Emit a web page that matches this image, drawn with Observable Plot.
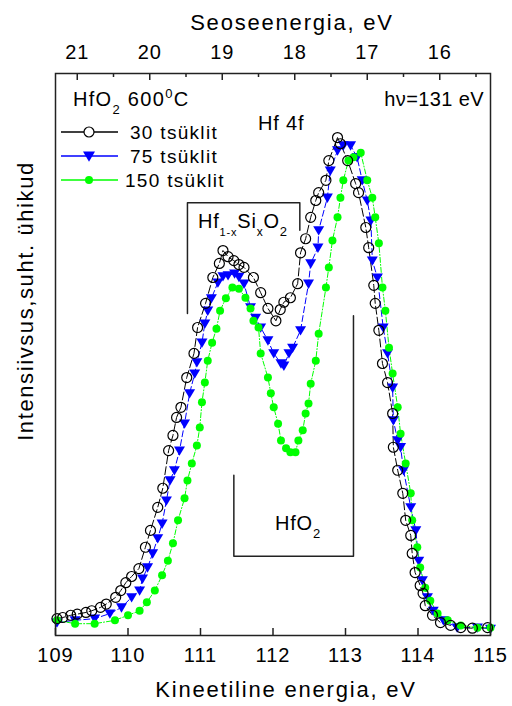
<!DOCTYPE html>
<html><head><meta charset="utf-8">
<script src="https://cdn.jsdelivr.net/npm/d3@7"></script>
<script src="https://cdn.jsdelivr.net/npm/@observablehq/plot@0.6"></script>
<style>body{margin:0;background:#fff} svg{display:block}
g[aria-label="x-axis tick label"] text{letter-spacing:1px}</style>
</head><body><div id="chart"></div>
<script>
// ---------- data (kinetic energy, eV ; intensity, arb. units) ----------
const seriesNames = ["30 tsüklit", "75 tsüklit", "150 tsüklit"];
const bottomTicks = [109, 110, 111, 112, 113, 114, 115];
const topTickBE = [21, 20, 19, 18, 17, 16];
const topMinorBE = [20.5, 19.5, 18.5, 17.5, 16.5, 15.5];
const beOffset = 130.3; // binding energy = beOffset - kinetic energy

const ke30 = [109.02,109.1,109.21,109.3,109.42,109.5,109.62,109.7,109.83,109.9,109.97,110.05,110.15,110.24,110.31,110.41,110.48,110.56,110.62,110.67,110.73,110.81,110.91,110.96,111.07,111.17,111.26,111.31,111.38,111.46,111.53,111.60,111.73,111.83,111.93,112.04,112.10,112.15,112.24,112.34,112.38,112.45,112.52,112.59,112.63,112.73,112.77,112.89,112.93,113.03,113.14,113.18,113.28,113.32,113.39,113.41,113.46,113.51,113.58,113.65,113.66,113.72,113.79,113.83,113.90,113.92,113.96,114.03,114.07,114.10,114.20,114.31,114.45,114.59,114.75,114.96];
const int30 = [3.0,3.2,3.6,3.8,4.1,4.4,5.0,5.6,6.8,8.0,9.4,10.5,11.9,15.7,18.7,22.8,26.2,32.9,35.6,38.8,40.6,45.9,50.2,54.8,59.1,63.7,66.2,68.5,67.4,66.7,66.0,65.5,63.7,61.0,58.2,56.0,58.0,59.3,60.1,62.6,68.1,70.6,74.4,77.4,78.8,81.0,84.5,88.6,87.5,84.5,80.4,78.8,72.6,69.0,62.3,59.1,54.3,48.4,45.0,39.5,33.5,29.4,25.3,20.5,17.8,14.6,11.2,8.9,7.5,5.3,3.6,2.3,1.8,1.4,1.3,1.4];

const ke75 = [109.02,109.27,109.54,109.75,109.91,110.05,110.16,110.20,110.27,110.34,110.41,110.47,110.53,110.58,110.64,110.71,110.78,110.85,110.92,110.95,111.02,111.06,111.10,111.15,111.24,111.31,111.38,111.47,111.53,111.60,111.69,111.76,111.83,111.93,112.01,112.11,112.15,112.22,112.27,112.38,112.49,112.52,112.62,112.63,112.75,112.79,112.89,112.97,113.07,113.16,113.23,113.30,113.35,113.37,113.44,113.52,113.58,113.65,113.66,113.72,113.76,113.80,113.90,113.97,114.01,114.06,114.13,114.21,114.35,114.54,114.82,115.00];
const int75 = [2.3,2.7,3.0,3.9,5.0,6.8,8.0,10.1,12.1,14.6,17.3,19.9,24.0,27.6,29.4,32.9,37.7,43.1,46.6,48.6,52.1,55.5,57.8,60.0,62.8,63.9,64.1,64.4,63.8,62.6,58.4,56.5,54.8,52.5,50.2,48.4,48.0,50.2,51.2,54.3,62.6,66.2,69.0,72.1,77.9,82.7,86.3,87.2,87.2,85.1,81.0,77.4,73.8,66.7,63.7,54.8,50.2,44.1,38.3,34.7,33.5,29.4,22.8,18.7,13.3,9.8,6.8,4.4,2.7,1.4,1.4,1.2];

const ke150 = [109.02,109.27,109.54,109.82,110.00,110.16,110.26,110.37,110.47,110.55,110.62,110.69,110.78,110.82,110.88,110.95,110.99,111.02,111.06,111.10,111.16,111.22,111.27,111.35,111.44,111.53,111.62,111.69,111.73,111.80,111.83,111.93,111.97,112.01,112.07,112.11,112.18,112.24,112.31,112.35,112.41,112.45,112.49,112.52,112.59,112.63,112.73,112.77,112.82,112.89,112.93,112.97,113.04,113.11,113.21,113.30,113.37,113.41,113.46,113.51,113.55,113.60,113.65,113.72,113.76,113.83,113.90,113.92,113.99,114.03,114.10,114.17,114.27,114.41,114.59,114.82,115.00];
const int150 = [2.7,2.1,2.1,2.7,3.6,4.4,5.9,8.0,10.7,13.3,16.4,20.5,24.4,27.6,30.6,33.8,37.0,41.5,45.0,48.9,52.1,54.6,57.8,60.0,61.9,61.7,60.1,58.2,56.0,54.8,50.2,45.9,43.1,40.6,37.7,34.7,33.3,32.6,32.6,34.7,36.5,39.5,41.3,44.8,48.9,53.7,61.9,65.5,70.3,74.4,77.9,81.0,84.5,85.1,85.9,81.0,77.9,74.4,69.8,61.9,57.8,51.2,46.6,40.6,35.9,30.6,25.3,20.5,15.7,12.1,8.5,6.2,3.9,2.7,1.8,1.4,1.4];

// component bracket annotations (data units)
const bracketSiO = {x: [110.82, 110.82, 112.37, 112.37], y: [57.3, 77.0, 77.0, 72.1]};
const bracketHfO = {x: [111.46, 111.46, 113.11, 113.11], y: [28.5, 14.1, 14.1, 56.9]};

// ---------- layout ----------
const W = 512, H = 706, mL = 55, mR = 22, mT = 73, mB = 71;
const frameH = H - mT - mB;
const FONT = "'Liberation Sans', Arial, Helvetica, sans-serif";
const colors = ["#000000", "#0000ff", "#00ff00"];

const rows = (ke, it) => ke.map((x, i) => ({x, y: it[i]}));
const d30 = rows(ke30, int30), d75 = rows(ke75, int75), d150 = rows(ke150, int150);
const brackets = [
  ...bracketSiO.x.map((x, i) => ({x, y: bracketSiO.y[i], id: "a"})),
  ...bracketHfO.x.map((x, i) => ({x, y: bracketHfO.y[i], id: "b"}))
];
const topMajorKE = topTickBE.map(b => +(beOffset - b).toFixed(3));
const topMinorKE = topMinorBE.map(b => +(beOffset - b).toFixed(3));

const triDown = {draw(ctx, size) {
  const r = Math.sqrt(size / Math.PI);
  ctx.moveTo(-r, -0.75 * r); ctx.lineTo(r, -0.75 * r); ctx.lineTo(0, 0.95 * r); ctx.closePath();
}};

const plot = Plot.plot({
  width: W, height: H, marginLeft: mL, marginRight: mR, marginTop: mT, marginBottom: mB,
  x: {domain: [109, 115]},
  y: {domain: [0, 100], axis: null},
  style: {fontFamily: FONT, background: "#fff", color: "#000", overflow: "visible"},
  marks: [
    Plot.line(d75, {x: "x", y: "y", stroke: colors[1], strokeWidth: 1, strokeDasharray: "6,3"}),
    Plot.line(d150, {x: "x", y: "y", stroke: colors[2], strokeWidth: 1, strokeDasharray: "5,2,1,2"}),
    Plot.line(d30, {x: "x", y: "y", stroke: colors[0], strokeWidth: 1, strokeDasharray: "8,3"}),
    Plot.dot(d75, {x: "x", y: "y", symbol: triDown, r: 5.5, fill: colors[1], stroke: "none"}),
    Plot.dot(d150, {x: "x", y: "y", r: 4, fill: colors[2], stroke: "none"}),
    Plot.dot(d30, {x: "x", y: "y", r: 5, fill: "none", stroke: colors[0], strokeWidth: 1.2}),
    Plot.line(brackets, {x: "x", y: "y", z: "id", stroke: "#222", strokeWidth: 1.5}),
    Plot.tickX(bottomTicks, {x: d => d, insetTop: frameH - 7, stroke: "#222", strokeWidth: 1.5}),
    Plot.tickX(topMajorKE, {x: d => d, insetBottom: frameH - 7, stroke: "#222", strokeWidth: 1.5}),
    Plot.tickX(topMinorKE, {x: d => d, insetBottom: frameH - 4, stroke: "#222", strokeWidth: 1.5}),
    Plot.axisX({anchor: "bottom", ticks: bottomTicks, tickSize: 0, tickPadding: 12, fontSize: 20, label: null, tickFormat: d => String(d)}),
    Plot.axisX({anchor: "top", ticks: topMajorKE, tickSize: 0, tickPadding: 15, fontSize: 20, label: null, tickFormat: d => String(Math.round(beOffset - d))}),
    Plot.frame({stroke: "#222", strokeWidth: 1.5})
  ]
});

document.getElementById("chart").appendChild(plot);
const svg = d3.select(plot);
const g = svg.append("g").attr("font-family", FONT).attr("fill", "#000");

function txt(x, y, size, anchor, parts, opts = {}) {
  const t = g.append("text").attr("font-size", size).attr("text-anchor", anchor || "start")
    .attr("letter-spacing", opts.ls || 0);
  if (opts.rotate) t.attr("transform", `translate(${x},${y}) rotate(${opts.rotate})`);
  else t.attr("x", x).attr("y", y);
  let shift = 0;
  for (const p of parts) {
    const s = typeof p === "string" ? {t: p} : p;
    const sp = t.append("tspan").text(s.t);
    if (s.sub || s.sup) {
      const d = s.sub ? 8 : -8;
      sp.attr("dy", d - shift).attr("font-size", s.size || 13); shift = d;
    } else if (shift) { sp.attr("dy", -shift); shift = 0; }
  }
  return t;
}

// axis titles
txt(292, 30, 22, "middle", ["Seoseenergia, eV"], {ls: 1.8});
txt(286, 697, 22, "middle", ["Kineetiline energia, eV"], {ls: 1.8});
txt(33, 301, 22, "middle", ["Intensiivsus,suht. ühikud"], {rotate: -90, ls: 1.6});

// annotations
txt(73, 106, 20, "start", ["HfO", {t: "2", sub: true}, " 600", {t: "0", sup: true}, "C"], {ls: 1.3});
txt(484, 106, 20, "end", ["hν=131 eV"], {ls: 0.4});
txt(258, 130, 20, "start", ["Hf 4f"], {ls: 0.8});
txt(198, 228, 20, "start", ["Hf", {t: "1-x", sub: true, size: 11}, "Si", {t: "x", sub: true, size: 12}, "O", {t: "2", sub: true}], {ls: 0.8});
txt(275, 530, 20, "start", ["HfO", {t: "2", sub: true}], {ls: 0.8});

// legend
const legY = [132, 156, 180];
const sym = [d3.symbol(d3.symbolCircle, Math.PI * 25)(), null, d3.symbol(d3.symbolCircle, Math.PI * 16)()];
seriesNames.forEach((name, i) => {
  const y = legY[i];
  g.append("line").attr("x1", 61).attr("x2", 118).attr("y1", y).attr("y2", y)
    .attr("stroke", colors[i]).attr("stroke-width", 1.3);
  const m = g.append("g").attr("transform", `translate(89,${y})`);
  if (i === 0) m.append("path").attr("d", sym[0]).attr("fill", "#fff").attr("stroke", "#000").attr("stroke-width", 1.2);
  else if (i === 1) m.append("path").attr("d", "M-6,-4.5L6,-4.5L0,5.7Z").attr("fill", colors[1]);
  else m.append("path").attr("d", sym[2]).attr("fill", colors[2]);
  txt(i === 2 ? 125 : 130, y + 7, 19, "start", [name], {ls: 1.3});
});
</script>
</body></html>
